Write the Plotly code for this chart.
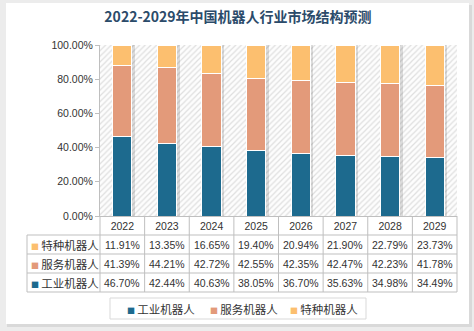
import plotly.graph_objects as go

years = ["2022", "2023", "2024", "2025", "2026", "2027", "2028", "2029"]
industrial = [46.70, 42.44, 40.63, 38.05, 36.70, 35.63, 34.98, 34.49]
service = [41.39, 44.21, 42.72, 42.55, 42.35, 42.47, 42.23, 41.78]
special = [11.91, 13.35, 16.65, 19.40, 20.94, 21.90, 22.79, 23.73]
series_names = ["工业机器人", "服务机器人", "特种机器人"]
colors = ["#1d6a8e", "#e39a7a", "#fcbf6f"]
title = "2022-2029年中国机器人行业市场结构预测"

W, H = 474, 331
L, R, T, B = 100, 17, 45, 115
PW, PH = W - L - R, H - T - B
n = len(years)
xs = list(range(n))
BAR_W = 0.43

def px_x(p):
    return (p - L) / PW

def px_y(p):
    return (H - B - p) / PH

CJK = "Noto Sans CJK SC"
NUM = "Liberation Sans, Arial, sans-serif"
TXT = "#333333"

fig = go.Figure()

# hatched plot background (main axes, drawn under the data axes)
fig.add_trace(go.Bar(
    x=[(n - 1) / 2], y=[1], width=[n], hoverinfo="skip", showlegend=False,
    marker=dict(color="white", line=dict(width=0),
                pattern=dict(shape="/", fgcolor="#dfdfdf", bgcolor="#fdfdfd",
                             fillmode="replace", size=4, solidity=0.3)),
))
# soft bar shadows
fig.add_trace(go.Bar(
    x=xs, y=[(a + b + c) / 100 for a, b, c in zip(industrial, service, special)],
    width=BAR_W, offset=-BAR_W / 2 + 3 / (PW / n), hoverinfo="skip", showlegend=False,
    marker=dict(color="rgba(0,0,0,0.13)", line=dict(width=0)),
))

all_vals = [industrial, service, special]
for name, vals, c in zip(series_names, all_vals, colors):
    fig.add_trace(go.Bar(
        x=xs, y=[v / 100 for v in vals], name=name, width=BAR_W,
        xaxis="x2", yaxis="y2", showlegend=False,
        marker=dict(color=c, line=dict(color="white", width=1)),
    ))

shapes = []
line_c = "#bfbfbf"
# page frame
shapes.append(dict(type="rect", xref="paper", yref="paper", layer="below",
                   x0=px_x(7), x1=px_x(472), y0=px_y(5), y1=px_y(327),
                   fillcolor="#d9d9d9", line=dict(width=0)))
shapes.append(dict(type="rect", xref="paper", yref="paper", layer="below",
                   x0=px_x(6), x1=px_x(469), y0=px_y(3), y1=px_y(324),
                   fillcolor="white", line=dict(width=0)))

# table grid
row_edges = [216, 235, 254, 273, 292]
tab_left = 27
for k in range(n + 1):
    xp = k / n
    shapes.append(dict(type="line", xref="paper", yref="paper", x0=xp, x1=xp,
                       y0=px_y(row_edges[0]), y1=px_y(row_edges[-1]),
                       line=dict(color=line_c, width=1)))
shapes.append(dict(type="line", xref="paper", yref="paper", x0=px_x(tab_left), x1=px_x(tab_left),
                   y0=px_y(row_edges[1]), y1=px_y(row_edges[-1]), line=dict(color=line_c, width=1)))
for ry in row_edges[1:]:
    shapes.append(dict(type="line", xref="paper", yref="paper", x0=px_x(tab_left), x1=1,
                       y0=px_y(ry), y1=px_y(ry), line=dict(color=line_c, width=1)))

annotations = []
table_rows = [(series_names[2], special, colors[2]),
              (series_names[1], service, colors[1]),
              (series_names[0], industrial, colors[0])]
for r, (name, vals, c) in enumerate(table_rows):
    yc = px_y((row_edges[r + 1] + row_edges[r + 2]) / 2)
    annotations.append(dict(
        xref="paper", yref="paper", x=px_x(tab_left + 2), y=yc, xanchor="left", yanchor="middle",
        text=f"<span style='color:{c};font-size:8px'>■</span>&#8201;{name}", showarrow=False,
        font=dict(family=CJK, size=11.5, color=TXT)))
    for i, v in enumerate(vals):
        annotations.append(dict(
            xref="x", yref="paper", x=xs[i], y=yc, xanchor="center", yanchor="middle",
            text=f"{v:.2f}%", showarrow=False,
            font=dict(family=NUM, size=10.5, color=TXT)))

# legend box
leg_y0, leg_y1 = 298, 319
shapes.append(dict(type="rect", xref="paper", yref="paper",
                   x0=px_x(110), x1=px_x(366), y0=px_y(leg_y0), y1=px_y(leg_y1),
                   fillcolor="white", line=dict(color="#d9d9d9", width=1)))
leg_starts = [125, 208, 288]
for name, c, sx in zip(series_names, colors, leg_starts):
    annotations.append(dict(
        xref="paper", yref="paper", x=px_x(sx), y=px_y((leg_y0 + leg_y1) / 2),
        xanchor="left", yanchor="middle", showarrow=False,
        text=f"<span style='color:{c};font-size:8px'>■</span>&#8201;{name}",
        font=dict(family=CJK, size=11.5, color=TXT)))

fig.update_layout(
    width=W, height=H, margin=dict(l=L, r=R, t=T, b=B, pad=0),
    paper_bgcolor="#ececec", plot_bgcolor="rgba(0,0,0,0)",
    barmode="stack", showlegend=False,
    title=dict(text=f"<b>{title}</b>", x=px_x(238), xref="paper", xanchor="center",
               y=1 - 17 / H, yanchor="middle",
               font=dict(family=CJK, size=14, color="#2b4b6a")),
    xaxis=dict(range=[-0.5, n - 0.5], tickvals=xs, ticktext=years, showgrid=False, zeroline=False,
               showline=True, linecolor=line_c, ticks="", tickfont=dict(family=NUM, size=10.5, color=TXT),
               fixedrange=True),
    yaxis=dict(range=[0, 1], dtick=0.2, tickformat=".2%", showgrid=False, zeroline=False,
               showline=True, linecolor=line_c, ticks="outside", ticklen=4, tickcolor=line_c,
               tickfont=dict(family=NUM, size=10.5, color=TXT), fixedrange=True),
    xaxis2=dict(range=[-0.5, n - 0.5], overlaying="x", visible=False, fixedrange=True),
    yaxis2=dict(range=[0, 1], overlaying="y", visible=False, fixedrange=True),
    shapes=shapes, annotations=annotations,
)

fig.write_html("out.html")
